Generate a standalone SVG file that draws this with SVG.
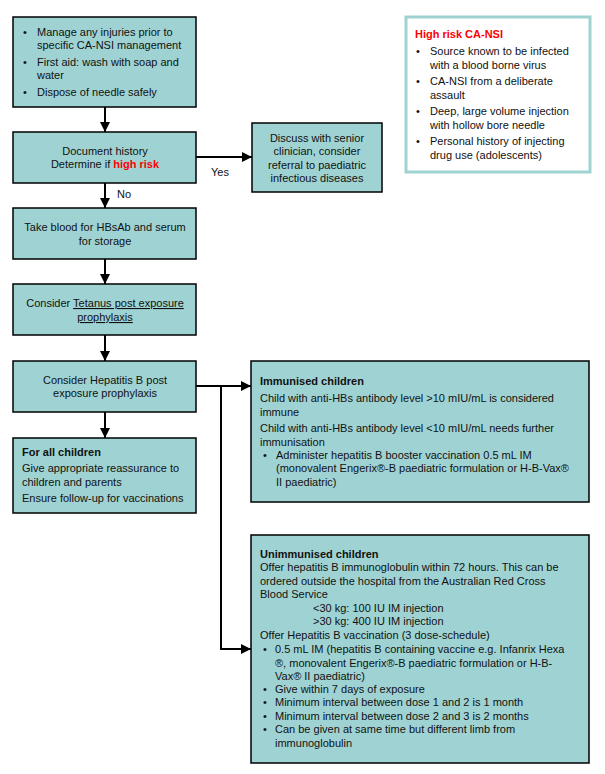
<svg xmlns="http://www.w3.org/2000/svg" width="605" height="774" viewBox="0 0 605 774">
<defs>
<style>
.box{fill:#9fd3d3;stroke:#000;stroke-width:1.5}
.hr{fill:#fff;stroke:#9fd3d3;stroke-width:3}
text{font-family:"Liberation Sans",Arial,sans-serif;font-size:11px;fill:#111}
.c{text-anchor:middle}
.b{font-weight:bold}
.red{fill:#ff0000;font-weight:bold}
.u{text-decoration:underline}
.ln{stroke:#000;stroke-width:2;fill:none}
</style>
<marker id="ah" viewBox="0 0 10 10" refX="10" refY="5" markerWidth="5" markerHeight="5" orient="auto" markerUnits="strokeWidth">
<path d="M0,0 L10,5 L0,10 z" fill="#000"/>
</marker>
</defs>
<rect width="605" height="774" fill="#fff"/>

<g id="connectors">
<line class="ln" x1="105" y1="107" x2="105" y2="132" marker-end="url(#ah)"/>
<line class="ln" x1="105" y1="183" x2="105" y2="208" marker-end="url(#ah)"/>
<line class="ln" x1="196" y1="157" x2="252" y2="157" marker-end="url(#ah)"/>
<line class="ln" x1="105" y1="259" x2="105" y2="284" marker-end="url(#ah)"/>
<line class="ln" x1="105" y1="335" x2="105" y2="361" marker-end="url(#ah)"/>
<line class="ln" x1="105" y1="412" x2="105" y2="438" marker-end="url(#ah)"/>
<line class="ln" x1="196" y1="386" x2="251" y2="386" marker-end="url(#ah)"/>
<polyline class="ln" points="221,386 221,649 251,649" marker-end="url(#ah)"/>
<text x="220" y="176" class="c">Yes</text>
<text x="124" y="198" class="c">No</text>
</g>

<g id="n1">
<rect class="box" x="13" y="17" width="183" height="90"/>
<text x="23" y="36">•</text><text x="37" y="36">Manage any injuries prior to</text>
<text x="37" y="49">specific CA-NSI management</text>
<text x="23" y="66">•</text><text x="37" y="66">First aid: wash with soap and</text>
<text x="37" y="79">water</text>
<text x="23" y="96">•</text><text x="37" y="96">Dispose of needle safely</text>
</g>

<g id="n2">
<rect class="box" x="13" y="132" width="183" height="51"/>
<text x="105" y="155" class="c">Document history</text>
<text x="105" y="168" class="c">Determine if <tspan class="red">high risk</tspan></text>
</g>

<g id="n3">
<rect class="box" x="252" y="123" width="130" height="69"/>
<text x="317" y="142" class="c">Discuss with senior</text>
<text x="317" y="155" class="c">clinician, consider</text>
<text x="317" y="169" class="c">referral to paediatric</text>
<text x="317" y="182" class="c">infectious diseases</text>
</g>

<g id="highrisk">
<rect class="hr" x="406" y="17" width="184" height="155"/>
<text x="415" y="38" class="red">High risk CA-NSI</text>
<text x="416" y="55">•</text><text x="430" y="55">Source known to be infected</text>
<text x="430" y="69">with a blood borne virus</text>
<text x="416" y="85">•</text><text x="430" y="85">CA-NSI from a deliberate</text>
<text x="430" y="99">assault</text>
<text x="416" y="115">•</text><text x="430" y="115">Deep, large volume injection</text>
<text x="430" y="129">with hollow bore needle</text>
<text x="416" y="145">•</text><text x="430" y="145">Personal history of injecting</text>
<text x="430" y="159">drug use (adolescents)</text>
</g>

<g id="n4">
<rect class="box" x="13" y="208" width="183" height="51"/>
<text x="105" y="231" class="c">Take blood for HBsAb and serum</text>
<text x="105" y="245" class="c">for storage</text>
</g>

<g id="n5">
<rect class="box" x="13" y="284" width="183" height="51"/>
<text x="105" y="307" class="c">Consider <tspan class="u">Tetanus post exposure</tspan></text>
<text x="105" y="321" class="c u">prophylaxis</text>
</g>

<g id="n6">
<rect class="box" x="13" y="361" width="183" height="51"/>
<text x="105" y="384" class="c">Consider Hepatitis B post</text>
<text x="105" y="397" class="c">exposure prophylaxis</text>
</g>

<g id="n7">
<rect class="box" x="13" y="438" width="183" height="75"/>
<text x="22" y="456" class="b">For all children</text>
<text x="22" y="472">Give appropriate reassurance to</text>
<text x="22" y="486">children and parents</text>
<text x="22" y="502">Ensure follow-up for vaccinations</text>
</g>

<g id="n8">
<rect class="box" x="251" y="361" width="338" height="141"/>
<text x="260" y="385" class="b">Immunised children</text>
<text x="260" y="402">Child with anti-HBs antibody level &gt;10 mIU/mL is considered</text>
<text x="260" y="416">immune</text>
<text x="260" y="432">Child with anti-HBs antibody level &lt;10 mIU/mL needs further</text>
<text x="260" y="446">immunisation</text>
<text x="263" y="459">•</text><text x="276" y="459">Administer hepatitis B booster vaccination 0.5 mL IM</text>
<text x="276" y="472">(monovalent Engerix®-B paediatric formulation or H-B-Vax®</text>
<text x="276" y="486">II paediatric)</text>
</g>

<g id="n9">
<rect class="box" x="251" y="535" width="338" height="228"/>
<text x="260" y="558" class="b">Unimmunised children</text>
<text x="260" y="571">Offer hepatitis B immunoglobulin within 72 hours. This can be</text>
<text x="260" y="585">ordered outside the hospital from the Australian Red Cross</text>
<text x="260" y="598">Blood Service</text>
<text x="313" y="612">&lt;30 kg: 100 IU IM injection</text>
<text x="313" y="625">&gt;30 kg: 400 IU IM injection</text>
<text x="260" y="639">Offer Hepatitis B vaccination (3 dose-schedule)</text>
<text x="263" y="653">•</text><text x="275" y="653">0.5 mL IM (hepatitis B containing vaccine e.g. Infanrix Hexa</text>
<text x="275" y="667">®, monovalent Engerix®-B paediatric formulation or H-B-</text>
<text x="275" y="680">Vax® II paediatric)</text>
<text x="263" y="693">•</text><text x="275" y="693">Give within 7 days of exposure</text>
<text x="263" y="706">•</text><text x="275" y="706">Minimum interval between dose 1 and 2 is 1 month</text>
<text x="263" y="720">•</text><text x="275" y="720">Minimum interval between dose 2 and 3 is 2 months</text>
<text x="263" y="733">•</text><text x="275" y="733">Can be given at same time but different limb from</text>
<text x="275" y="747">immunoglobulin</text>
</g>
</svg>
